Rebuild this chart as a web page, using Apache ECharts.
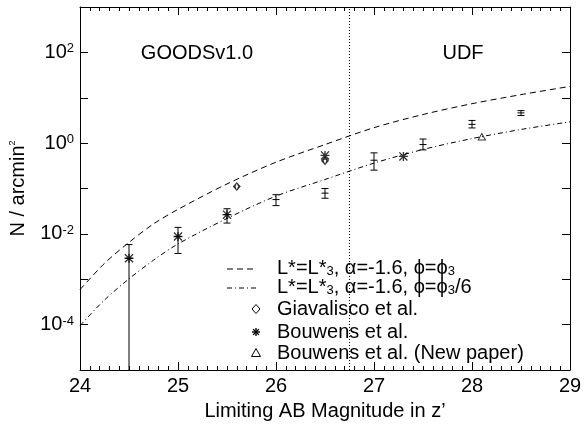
<!DOCTYPE html>
<html><head><meta charset="utf-8">
<script src="https://cdn.jsdelivr.net/npm/echarts@6/dist/echarts.min.js"></script>
<style>html,body{margin:0;padding:0;background:#fff}#c{width:586px;height:426px}</style>
</head><body><div id="c"></div>
<script>
// ---- data ----
const xMin = 24, xMax = 29;
const yMin = 1e-5, yMax = 1e3;
const curveMag = [24.0, 24.25, 24.5, 24.75, 25.0, 25.5, 26.0, 26.5, 27.0, 27.5, 28.0, 28.5, 29.0];
const curvePhi3 = [5.9e-4, 2.24e-3, 6.5e-3, 0.0166, 0.0347, 0.126, 0.38, 0.93, 2.19, 4.27, 7.4, 11.7, 17.8];
const curvePhi3over6 = [9.5e-5, 3.5e-4, 1.02e-3, 2.63e-3, 6.0e-3, 0.0219, 0.068, 0.158, 0.363, 0.724, 1.26, 2.0, 2.95];
const giaMag = [25.6, 26.5];
const giaN = [0.111, 0.41];
const bouMag = [24.5, 25.0, 25.5, 26.5, 27.3];
const bouN = [0.0029, 0.00875, 0.0265, 0.537, 0.51];
const bouNewMag = [28.1];
const bouNewN = [1.4];
const errMag = [24.5, 25.0, 25.5, 26.0, 26.5, 27.0, 27.5, 28.0, 28.5];
const errN = [0.0029, 0.00875, 0.0265, 0.057, 0.079, 0.42, 0.93, 2.59, 4.64];
const errLow = [1e-6, 0.0037, 0.0173, 0.042, 0.061, 0.254, 0.71, 2.16, 4.06];
const errHigh = [0.0058, 0.0139, 0.0358, 0.073, 0.100, 0.61, 1.23, 3.16, 5.2];
const boundaryMag = 26.75;
const fieldNames = ['GOODSv1.0', 'UDF'];
const legendNames = [
  '{t|L*=L*}{sub|3}{t|, \u03b1=-1.6, \u03d5=\u03d5}{sub|3}',
  '{t|L*=L*}{sub|3}{t|, \u03b1=-1.6, \u03d5=\u03d5}{sub|3}{t|/6}',
  'Giavalisco et al.',
  'Bouwens et al.',
  'Bouwens et al. (New paper)'
];
const xName = "Limiting AB Magnitude in z\u2019";
const yName = '{a|N / arcmin}{s|2}';

// ---- chart ----
const FONT = 'Liberation Sans, Arial, Helvetica, sans-serif';
const BLACK = '#000';
const asteriskPath = 'path://M8.5 0L11.5 0L11.5 20L8.5 20Z M0 8.5L20 8.5L20 11.5L0 11.5Z M2.1 0L20 17.9L17.9 20L0 2.1Z M17.9 0L20 2.1L2.1 20L0 17.9Z';
const diamondOutline = 'path://M10 0L20 10L10 20L0 10Z M10 3.2L6.8 10L10 16.8L13.2 10Z';
const triangleOutline = 'path://M10 0L20 18L0 18Z M10 4.5L3.9 15.8L16.1 15.8Z';

const chart = echarts.init(document.getElementById('c'), null, {renderer: 'canvas'});

const tickInside = {show: true, inside: true, length: 8, lineStyle: {color: BLACK, width: 1}};
const minorInside = {show: true, splitNumber: 10, length: 4, lineStyle: {color: BLACK, width: 1}};

const subRich = {
  t: {fontSize: 20, lineHeight: 20, fontFamily: FONT, color: BLACK, verticalAlign: 'top'},
  sub: {fontSize: 13, lineHeight: 13, fontFamily: FONT, color: BLACK, padding: [10, 0, 0, 0], verticalAlign: 'bottom'}
};

const legendX0 = 227, legendX1 = 257, legendTextX = 277;
const legendY = [269, 288, 309, 332, 353];

function asteriskLines(cx, cy, r) {
  const d = r * 0.72;
  const st = {stroke: BLACK, lineWidth: 1.4};
  return [
    {type: 'line', shape: {x1: cx, y1: cy - r, x2: cx, y2: cy + r}, style: st},
    {type: 'line', shape: {x1: cx - r, y1: cy, x2: cx + r, y2: cy}, style: st},
    {type: 'line', shape: {x1: cx - d, y1: cy - d, x2: cx + d, y2: cy + d}, style: st},
    {type: 'line', shape: {x1: cx - d, y1: cy + d, x2: cx + d, y2: cy - d}, style: st}
  ];
}

const legendGraphics = [
  {type: 'line', shape: {x1: legendX0, y1: legendY[0], x2: legendX1, y2: legendY[0]}, style: {stroke: BLACK, lineWidth: 1, lineDash: [6, 4]}},
  {type: 'line', shape: {x1: legendX0, y1: legendY[1], x2: legendX1, y2: legendY[1]}, style: {stroke: BLACK, lineWidth: 1, lineDash: [5, 3, 1, 3]}},
  {type: 'polygon', shape: {points: [[256, legendY[2] - 4.5], [260, legendY[2]], [256, legendY[2] + 4.5], [252, legendY[2]]]}, style: {stroke: BLACK, fill: '#fff', lineWidth: 1}},
  {type: 'group', children: asteriskLines(256, legendY[3], 4)},
  {type: 'polygon', shape: {points: [[256, legendY[4] - 4.5], [260.5, legendY[4] + 3.5], [251.5, legendY[4] + 3.5]]}, style: {stroke: BLACK, fill: '#fff', lineWidth: 1}}
];
legendNames.forEach((txt, i) => {
  legendGraphics.push({
    type: 'text', x: legendTextX, y: legendY[i] + (i < 2 ? -1 : 0),
    style: {text: i < 2 ? txt : '{t|' + txt + '}', rich: subRich, fill: BLACK, verticalAlign: 'middle', align: 'left', font: '20px ' + FONT}
  });
});
legendGraphics.push({type: 'text', x: 197, y: 53, style: {text: fieldNames[0], font: '20px ' + FONT, fill: BLACK, align: 'center', verticalAlign: 'middle'}});
legendGraphics.push({type: 'text', x: 463, y: 53, style: {text: fieldNames[1], font: '20px ' + FONT, fill: BLACK, align: 'center', verticalAlign: 'middle'}});

const option = {
  backgroundColor: '#fff',
  animation: false,
  grid: {left: 80, right: 16, top: 7, bottom: 49, containLabel: false},
  xAxis: [
    {
      type: 'value', min: xMin, max: xMax, interval: 1, position: 'bottom',
      name: xName, nameLocation: 'middle', nameGap: 31,
      nameTextStyle: {fontSize: 20, fontFamily: FONT, color: BLACK},
      axisLine: {show: true, onZero: false, lineStyle: {color: BLACK, width: 1}},
      axisTick: tickInside, minorTick: minorInside,
      axisLabel: {fontSize: 20, fontFamily: FONT, color: BLACK, margin: 6},
      splitLine: {show: false}
    },
    {
      type: 'value', min: xMin, max: xMax, interval: 1, position: 'top',
      axisLine: {show: true, onZero: false, lineStyle: {color: BLACK, width: 1}},
      axisTick: tickInside, minorTick: minorInside,
      axisLabel: {show: false}, splitLine: {show: false}
    }
  ],
  yAxis: [
    {
      type: 'log', logBase: 10, min: yMin, max: yMax, position: 'left',
      name: yName, nameLocation: 'middle', nameGap: 52,
      nameTextStyle: {rich: {
        a: {fontSize: 20, lineHeight: 20, fontFamily: FONT, color: BLACK, verticalAlign: 'bottom'},
        s: {fontSize: 9, lineHeight: 9, fontFamily: FONT, color: BLACK, verticalAlign: 'top'}
      }},
      axisLine: {show: true, onZero: false, lineStyle: {color: BLACK, width: 1}},
      axisTick: tickInside,
      axisLabel: {
        margin: 6, showMinLabel: true, showMaxLabel: true,
        formatter: v => {
          const e = Math.round(Math.log10(v));
          return (e % 2 === 0) ? '{b|10}{s|' + e + '}' : '';
        },
        rich: {
          b: {fontSize: 20, lineHeight: 20, fontFamily: FONT, color: BLACK},
          s: {fontSize: 13, lineHeight: 13, fontFamily: FONT, color: BLACK, verticalAlign: 'top'}
        }
      },
      splitLine: {show: false}
    },
    {
      type: 'log', logBase: 10, min: yMin, max: yMax, position: 'right',
      axisLine: {show: true, onZero: false, lineStyle: {color: BLACK, width: 1}},
      axisTick: tickInside, axisLabel: {show: false}, splitLine: {show: false}
    }
  ],
  graphic: legendGraphics,
  series: [
    {
      name: 'phi3', type: 'line', smooth: 0.3, symbol: 'none', showSymbol: false,
      data: curveMag.map((m, i) => [m, curvePhi3[i]]),
      lineStyle: {color: BLACK, width: 1, type: [6, 4]},
      markLine: {
        silent: true, symbol: ['none', 'none'], label: {show: false},
        lineStyle: {color: BLACK, width: 1, type: [1, 2]},
        data: [{xAxis: boundaryMag}]
      }
    },
    {
      name: 'phi3/6', type: 'line', smooth: 0.3, symbol: 'none', showSymbol: false,
      data: curveMag.map((m, i) => [m, curvePhi3over6[i]]),
      lineStyle: {color: BLACK, width: 1, type: [5, 3, 1, 3]}
    },
    {
      name: 'errors', type: 'custom',
      data: errMag.map((m, i) => [m, errN[i], errLow[i], errHigh[i]]),
      encode: {x: 0, y: 1},
      renderItem: (params, api) => {
        const x = api.value(0);
        const c = api.coord([x, api.value(1)]);
        const lo = api.coord([x, api.value(2)]);
        const hi = api.coord([x, api.value(3)]);
        const cs = params.coordSys;
        const yBottom = cs.y + cs.height;
        const loY = Math.min(lo[1], yBottom);
        const w = 3.5;
        const st = {stroke: BLACK, lineWidth: 1, fill: null};
        const ch = [
          {type: 'line', shape: {x1: c[0], y1: hi[1], x2: c[0], y2: loY}, style: st},
          {type: 'line', shape: {x1: c[0] - w, y1: hi[1], x2: c[0] + w, y2: hi[1]}, style: st},
          {type: 'line', shape: {x1: c[0] - w, y1: c[1], x2: c[0] + w, y2: c[1]}, style: st}
        ];
        if (lo[1] <= yBottom) ch.push({type: 'line', shape: {x1: c[0] - w, y1: lo[1], x2: c[0] + w, y2: lo[1]}, style: st});
        return {type: 'group', children: ch};
      }
    },
    {
      name: 'Giavalisco et al.', type: 'scatter', symbol: diamondOutline, symbolSize: [8, 9],
      data: giaMag.map((m, i) => [m, giaN[i]]),
      itemStyle: {color: BLACK}
    },
    {
      name: 'Bouwens et al.', type: 'scatter', symbol: asteriskPath, symbolSize: 9,
      data: bouMag.map((m, i) => [m, bouN[i]]),
      itemStyle: {color: BLACK}
    },
    {
      name: 'Bouwens et al. (New paper)', type: 'scatter', symbol: triangleOutline, symbolSize: [9, 8],
      data: bouNewMag.map((m, i) => [m, bouNewN[i]]),
      itemStyle: {color: BLACK}
    }
  ]
};
chart.setOption(option);
</script>
</body></html>
